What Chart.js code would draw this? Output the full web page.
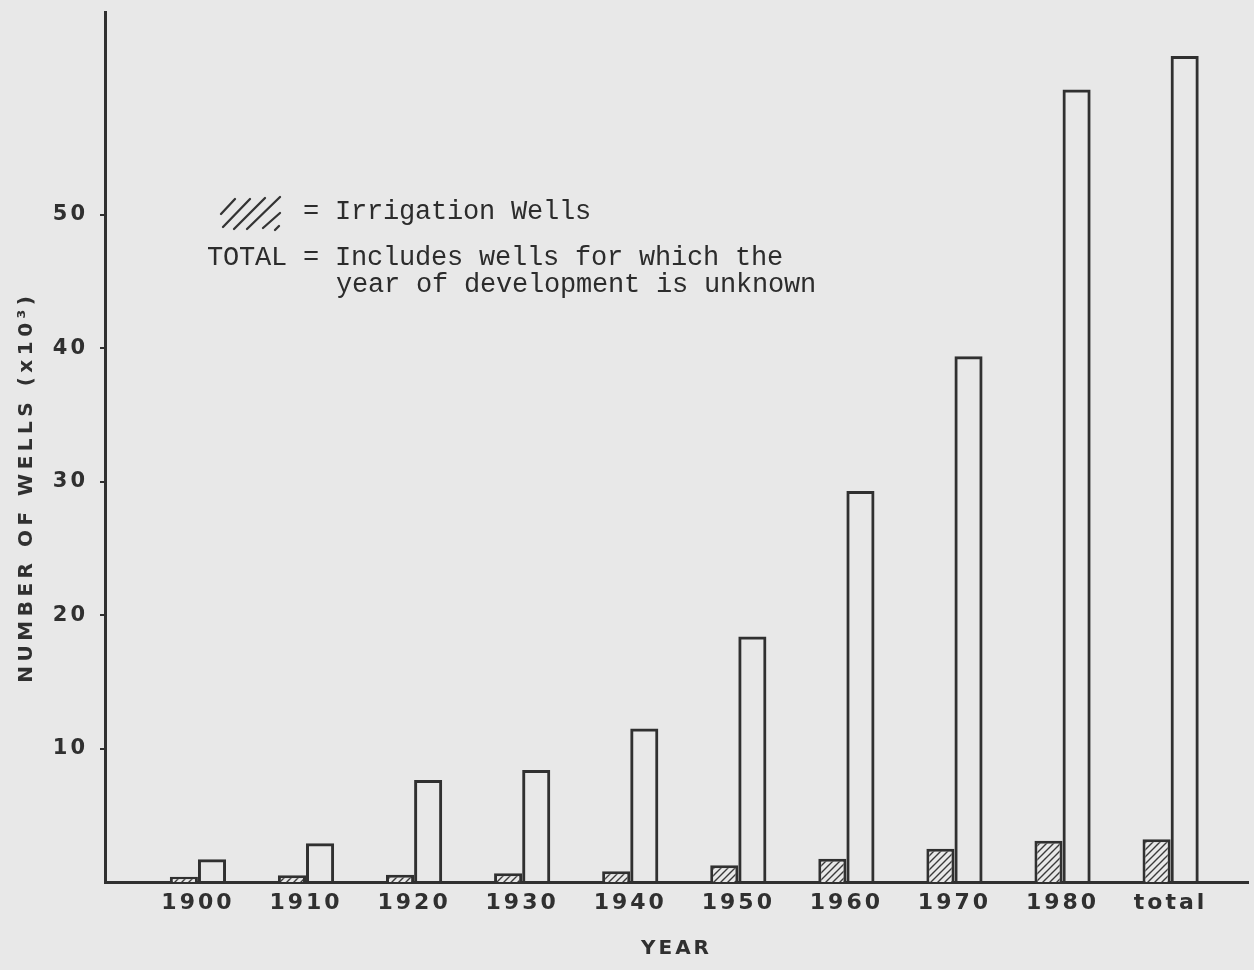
<!DOCTYPE html>
<html>
<head>
<meta charset="utf-8">
<script src="https://cdn.jsdelivr.net/npm/chart.js@4/dist/chart.umd.min.js"></script>
<style>
  html, body { margin: 0; padding: 0; background: #e8e8e8; }
  #wrap { position: relative; width: 1254px; height: 970px; }
  canvas { display: block; }
</style>
</head>
<body>
<div id="wrap"><canvas id="c" width="1254" height="970"></canvas></div>
<script>
// ---- data ----
const categories = ['1900', '1910', '1920', '1930', '1940', '1950', '1960', '1970', '1980', 'total'];
const irrigationWells = [0.4, 0.5, 0.55, 0.65, 0.8, 1.25, 1.75, 2.5, 3.1, 3.2];
const totalWells = [1.7, 2.9, 7.65, 8.4, 11.5, 18.4, 29.3, 39.4, 59.4, 61.9];
const yTickValues = [10, 20, 30, 40, 50];
const yTitle = 'NUMBER OF WELLS (x10\u00b3)';
const xTitle = 'YEAR';
const noteLine1 = '= Irrigation Wells';
const noteLine2 = 'TOTAL = Includes wells for which the';
const noteLine3 = 'year of development is unknown';

const INK = '#303030';
const PAPER = '#e8e8e8';

// diagonal hatch pattern
function makeHatch() {
  const s = 7;
  const p = document.createElement('canvas');
  p.width = s; p.height = s;
  const g = p.getContext('2d');
  g.fillStyle = PAPER; g.fillRect(0, 0, s, s);
  g.strokeStyle = '#3a3a3a'; g.lineWidth = 1.4;
  g.beginPath();
  g.moveTo(-1, s + 1); g.lineTo(s + 1, -1);
  g.moveTo(-1, 1); g.lineTo(1, -1);
  g.moveTo(s - 1, s + 1); g.lineTo(s + 1, s - 1);
  g.stroke();
  return g.createPattern(p, 'repeat');
}

function spaced(scale, map) {
  if (scale.__spaced) return;
  scale.__spaced = true;
  Object.keys(map).forEach(m => {
    const orig = scale[m];
    scale[m] = function (...args) {
      const c = this.ctx;
      const prev = c.letterSpacing;
      c.letterSpacing = map[m];
      orig.apply(this, args);
      c.letterSpacing = prev;
    };
  });
}

const notePlugin = {
  id: 'note',
  afterDraw(chart) {
    const ctx = chart.ctx;
    ctx.save();
    // hatch symbol
    ctx.strokeStyle = '#333';
    ctx.lineWidth = 2.3;
    ctx.lineCap = 'round';
    const strokes = [
      [221, 214, 235, 199], [223, 227, 250, 199], [234, 229, 265, 198],
      [247, 229, 280, 197], [263, 228, 280, 213], [275, 230, 279, 226]
    ];
    ctx.beginPath();
    strokes.forEach(s => { ctx.moveTo(s[0], s[1]); ctx.lineTo(s[2], s[3]); });
    ctx.stroke();
    ctx.fillStyle = '#2c2c2c';
    ctx.font = '27px "Liberation Mono", "Courier New", monospace';
    ctx.textBaseline = 'alphabetic';
    ctx.textAlign = 'left';
    ctx.letterSpacing = '-0.2px';
    ctx.fillText(noteLine1, 303, 219);
    ctx.fillText(noteLine2, 207, 265);
    ctx.fillText(noteLine3, 336, 292);
    ctx.restore();
  }
};

const hatch = makeHatch();

new Chart(document.getElementById('c'), {
  type: 'bar',
  data: {
    datasets: [
      {
        label: 'Irrigation Wells',
        data: irrigationWells.map((v, i) => ({ x: i, y: v })),
        backgroundColor: hatch,
        borderColor: INK,
        borderWidth: 3,
        borderSkipped: 'start'
      },
      {
        label: 'Total',
        data: totalWells.map((v, i) => ({ x: i, y: v })),
        backgroundColor: 'rgba(0,0,0,0)',
        borderColor: INK,
        borderWidth: 3,
        borderSkipped: 'start'
      }
    ]
  },
  options: {
    responsive: false,
    animation: false,
    events: [],
    layout: { padding: { left: 11, top: 12, right: 6, bottom: 0 } },
    datasets: { bar: { categoryPercentage: 0.52, barPercentage: 1.0, grouped: true } },
    plugins: { legend: { display: false }, tooltip: { enabled: false } },
    scales: {
      x: {
        type: 'linear',
        offset: false,
        min: -0.86,
        max: 9.716,
        grid: { display: false },
        border: { display: true, color: INK, width: 3 },
        afterBuildTicks: (scale) => { scale.ticks = categories.map((c, i) => ({ value: i })); },
        afterFit: (scale) => {
          scale.height = 88;
          scale.paddingLeft = 0; scale.paddingRight = 0;
          spaced(scale, { drawLabels: '3px', drawTitle: '3px' });
        },
        ticks: {
          autoSkip: false, maxRotation: 0, minRotation: 0, padding: 0,
          color: INK,
          font: { family: '"DejaVu Sans", sans-serif', weight: 'bold', size: 22 },
          callback: (v) => categories[v]
        },
        title: {
          display: true, text: xTitle, color: INK,
          font: { family: '"DejaVu Sans", sans-serif', weight: 'bold', size: 20 },
          padding: { top: 0, bottom: 9 }
        }
      },
      y: {
        min: 0,
        max: 65.2,
        grid: { display: true, drawOnChartArea: false, drawTicks: true, tickLength: 5, color: INK, lineWidth: 2 },
        border: { display: true, color: INK, width: 3 },
        afterBuildTicks: (scale) => { scale.ticks = yTickValues.map(v => ({ value: v })); },
        afterFit: (scale) => {
          scale.width = 94;
          scale.paddingTop = 0; scale.paddingBottom = 0;
          spaced(scale, { drawLabels: '3px', drawTitle: '4.5px' });
        },
        ticks: {
          padding: 12, color: INK,
          font: { family: '"DejaVu Sans", sans-serif', weight: 'bold', size: 21 }
        },
        title: {
          display: true,
          text: yTitle + '\u00a0\u00a0\u00a0\u00a0\u00a0\u00a0\u00a0',
          color: INK,
          font: { family: '"DejaVu Sans", sans-serif', weight: 'bold', size: 20 },
          padding: { top: 4, bottom: 0 }
        }
      }
    }
  },
  plugins: [notePlugin]
});
</script>
</body>
</html>
